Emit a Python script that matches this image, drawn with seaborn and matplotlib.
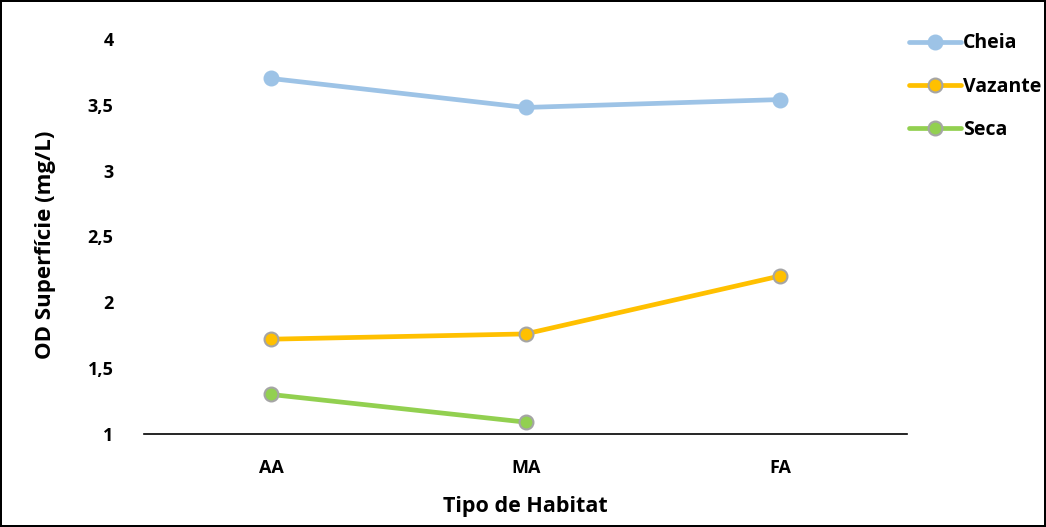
import matplotlib
matplotlib.use("Agg")
import matplotlib.pyplot as plt
import seaborn as sns
import numpy as np
import pandas as pd

# Habitat categories and dissolved oxygen (surface) per hydrological period
habitats = ["AA", "MA", "FA"]
cheia = [3.70, 3.48, 3.54]
vazante = [1.72, 1.76, 2.20]
seca = [1.30, 1.09, np.nan]
periods = ["Cheia", "Vazante", "Seca"]
y_ticks = [1, 1.5, 2, 2.5, 3, 3.5, 4]
y_tick_labels = ["1", "1,5", "2", "2,5", "3", "3,5", "4"]

colors = {"Cheia": "#9DC3E6", "Vazante": "#FFC000", "Seca": "#92D050"}
edges = {"Cheia": "#9DC3E6", "Vazante": "#A5A5A5", "Seca": "#A5A5A5"}

df = pd.DataFrame({
    "Habitat": habitats * 3,
    "Periodo": [p for p in periods for _ in habitats],
    "OD": cheia + vazante + seca,
})
df["x"] = df["Habitat"].map({h: i for i, h in enumerate(habitats)})

sns.set_style("white")
plt.rcParams["font.family"] = ["Open Sans", "DejaVu Sans"]
plt.rcParams["font.weight"] = "bold"
plt.rcParams["text.color"] = "black"
plt.rcParams["axes.labelcolor"] = "black"
plt.rcParams["xtick.color"] = "black"
plt.rcParams["ytick.color"] = "black"

fig = plt.figure(figsize=(10.46, 5.27), dpi=100)
fig.patch.set_edgecolor("black")
fig.patch.set_linewidth(1.5)
ax = fig.add_axes([0.1377, 0.1765, 0.7295, 0.7495])

for p in periods:
    sub = df[df["Periodo"] == p].dropna()
    sns.lineplot(data=sub, x="x", y="OD", ax=ax, color=colors[p],
                 linewidth=3.4, marker="o", markersize=10,
                 markerfacecolor=colors[p], markeredgecolor=edges[p],
                 markeredgewidth=1.5, label=p, legend=False)

ax.set_xlim(-0.5, 2.5)
ax.set_ylim(1, 4)
ax.set_xticks(range(len(habitats)))
ax.set_xticklabels(habitats, fontsize=13, fontweight="bold")
ax.set_yticks(y_ticks)
ax.set_yticklabels(y_tick_labels, fontsize=13, fontweight="bold")
ax.tick_params(axis="both", length=0)
ax.tick_params(axis="x", pad=18)
ax.tick_params(axis="y", pad=22)
for s in ["top", "right", "left"]:
    ax.spines[s].set_visible(False)
ax.spines["bottom"].set_color("black")
ax.spines["bottom"].set_linewidth(1.2)

ax.set_xlabel("Tipo de Habitat", fontsize=15.5, fontweight="bold", labelpad=14)
ax.set_ylabel("OD Superfície (mg/L)", fontsize=16, fontweight="bold", labelpad=23)
ax.yaxis.label.set_y(0.48)

handles, labels = ax.get_legend_handles_labels()
leg = fig.legend(handles, labels, loc="upper left",
                 bbox_to_anchor=(0.852, 0.97), frameon=False,
                 handlelength=2.7, handletextpad=0.1, labelspacing=1.2,
                 prop={"size": 14, "weight": "bold"})

fig.savefig("out.png", dpi=100, edgecolor=fig.get_edgecolor())
